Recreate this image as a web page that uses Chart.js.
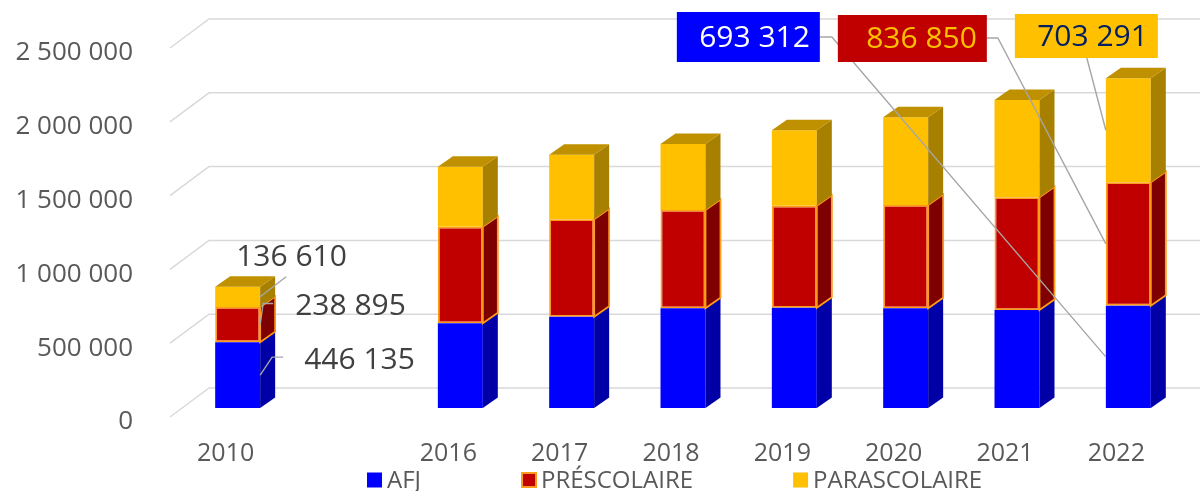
<!DOCTYPE html>
<html><head><meta charset="utf-8">
<script src="https://cdn.jsdelivr.net/npm/chart.js@4"></script>
<style>html,body{margin:0;padding:0;background:#fff;}#wrap{width:1200px;height:491px;}</style>
</head><body><div id="wrap"><canvas id="c" width="1200" height="491"></canvas></div>
<script>
const categories = ['2010', '', '2016', '2017', '2018', '2019', '2020', '2021', '2022'];
const afj = [446135, null, 573900, 618600, 675500, 679600, 675500, 664000, 693312];
const prescolaire = [238895, null, 654500, 660000, 666000, 691000, 700000, 763500, 836850];
const parascolaire = [136610, null, 406500, 437700, 447200, 510800, 594000, 659000, 703291];
const yTicks = [0, 500000, 1000000, 1500000, 2000000, 2500000];
const seriesNames = ['AFJ', 'PRÉSCOLAIRE', 'PARASCOLAIRE'];

const FONT = "'Open Sans', 'Noto Sans', sans-serif";
const fmt = v => String(v).replace(/\B(?=(\d{3})+(?!\d))/g, ' ');
const DX = 15, DY = -10.5;
const styles = [
  {front: '#0000FF', side: '#0000A6', top: '#0000C0', border: '#2a2aff', bw: 0},
  {front: '#C00000', side: '#7F0000', top: '#900000', border: '#FF9A1A', bw: 1.8},
  {front: '#FFC000', side: '#A88000', top: '#BF9000', border: '#FFC000', bw: 0}
];

function textAt(ctx, txt, x, cy, size, color, align) {
  ctx.font = size + 'px ' + FONT;
  ctx.fillStyle = color;
  ctx.textAlign = align || 'left';
  ctx.textBaseline = 'alphabetic';
  ctx.fillText(txt, x, cy + 0.357 * size);
}
function line(ctx, pts) {
  ctx.beginPath();
  ctx.moveTo(pts[0][0], pts[0][1]);
  for (let i = 1; i < pts.length; i++) ctx.lineTo(pts[i][0], pts[i][1]);
  ctx.strokeStyle = '#A6A6A6';
  ctx.lineWidth = 1.4;
  ctx.stroke();
}

const threeD = {
  id: 'threeD',
  beforeDatasetsDraw(chart) {
    const ctx = chart.ctx, ys = chart.scales.y, ca = chart.chartArea;
    ctx.save();
    ctx.strokeStyle = '#D9D9D9';
    ctx.lineWidth = 1.5;
    yTicks.forEach(v => {
      const p = ys.getPixelForValue(v);
      ctx.beginPath();
      ctx.moveTo(ca.left - 12, p + 9);
      ctx.lineTo(ca.left + 27, p - 20);
      ctx.lineTo(chart.width, p - 20);
      ctx.stroke();
    });
    ctx.restore();
  },
  afterDatasetsDraw(chart) {
    const ctx = chart.ctx;
    ctx.save();
    chart.data.datasets.forEach((ds, d) => {
      const st = styles[d];
      chart.getDatasetMeta(d).data.forEach((el, i) => {
        if (ds.data[i] == null) return;
        const p = el.getProps(['x', 'y', 'base', 'width'], true);
        const l = p.x - p.width / 2, r = p.x + p.width / 2;
        const t = Math.min(p.y, p.base), b = Math.max(p.y, p.base);
        ctx.beginPath();
        ctx.moveTo(r, t); ctx.lineTo(r + DX, t + DY); ctx.lineTo(r + DX, b + DY); ctx.lineTo(r, b); ctx.closePath();
        ctx.fillStyle = st.side; ctx.fill();
        if (st.bw) { ctx.strokeStyle = st.border; ctx.lineWidth = st.bw; ctx.stroke(); }
        if (d === chart.data.datasets.length - 1) {
          ctx.beginPath();
          ctx.moveTo(l, t); ctx.lineTo(l + DX, t + DY); ctx.lineTo(r + DX, t + DY); ctx.lineTo(r, t); ctx.closePath();
          ctx.fillStyle = st.top; ctx.fill();
        }
      });
    });

    const geo = (d, i) => {
      const p = chart.getDatasetMeta(d).data[i].getProps(['x', 'y', 'base', 'width'], true);
      const t = Math.min(p.y, p.base), b = Math.max(p.y, p.base);
      return {l: p.x - p.width / 2, r: p.x + p.width / 2, t, b, m: (t + b) / 2};
    };
    const vals = [afj, prescolaire, parascolaire];
    const g0 = geo(0, 0), g1 = geo(1, 0), g2 = geo(2, 0);
    line(ctx, [[g2.r + 26, g2.m - 20], [g2.r, g2.m]]);
    line(ctx, [[g1.r + 13, g1.m - 21], [g1.r + 3, g1.m - 21], [g1.r, g1.m]]);
    line(ctx, [[g0.r + 23, g0.m - 18], [g0.r + 12, g0.m - 18], [g0.r, g0.m]]);
    textAt(ctx, fmt(vals[2][0]), g2.l + 21, g2.t - 31, 30, '#404040');
    textAt(ctx, fmt(vals[1][0]), g1.r + 35, g1.m - 20, 30, '#404040');
    textAt(ctx, fmt(vals[0][0]), g0.r + 44, g0.m - 17, 30, '#404040');

    const n = categories.length - 1;
    const h0 = geo(0, n), h1 = geo(1, n), h2 = geo(2, n);
    const xL = h0.l, top = chart.chartArea.top;
    line(ctx, [[xL - 286, top - 2], [xL - 274, top - 2], [xL, h0.m]]);
    line(ctx, [[xL - 119, top - 1], [xL - 108, top - 1], [xL, h1.m]]);
    line(ctx, [[xL - 19, top + 19], [xL, h2.m]]);
    const boxes = [
      {x: xL - 429, y: top - 27, w: 143, h: 50, fill: '#0000FF', color: '#FFFFFF', v: vals[0][n]},
      {x: xL - 268, y: top - 24, w: 149, h: 47, fill: '#C00000', color: '#FFC000', v: vals[1][n]},
      {x: xL - 91, y: top - 25, w: 143, h: 44, fill: '#FFC000', color: '#002060', v: vals[2][n]}
    ];
    boxes.forEach(bx => {
      ctx.fillStyle = bx.fill;
      ctx.fillRect(bx.x, bx.y, bx.w, bx.h);
      textAt(ctx, fmt(bx.v), bx.x + bx.w - 10, bx.y + bx.h / 2 - 1, 30, bx.color, 'right');
    });
    ctx.restore();
  },
  afterDraw(chart) {
    const ctx = chart.ctx;
    ctx.save();
    let x = 367;
    const cy = 479.5;
    chart.data.datasets.forEach((ds, d) => {
      const st = styles[d];
      if (st.bw) {
        ctx.fillStyle = st.border; ctx.fillRect(x, cy - 7.5, 16, 16);
        ctx.fillStyle = st.front; ctx.fillRect(x + 2, cy - 5.5, 12, 12);
      } else {
        ctx.fillStyle = st.front; ctx.fillRect(x, cy - 7, 15, 15);
      }
      textAt(ctx, ds.label, x + 20, cy, 24, '#595959');
      ctx.font = '24px ' + FONT;
      x += 20 + ctx.measureText(ds.label).width + 100;
    });
    ctx.restore();
  }
};

new Chart(document.getElementById('c'), {
  type: 'bar',
  data: {
    labels: categories,
    datasets: [
      {label: seriesNames[0], data: afj, backgroundColor: styles[0].front, borderWidth: 0},
      {label: seriesNames[1], data: prescolaire, backgroundColor: styles[1].front, borderColor: styles[1].border, borderWidth: 1.8, borderSkipped: false},
      {label: seriesNames[2], data: parascolaire, backgroundColor: styles[2].front, borderWidth: 0}
    ]
  },
  options: {
    responsive: false,
    animation: false,
    layout: {padding: {top: 39, right: 16, bottom: 0, left: 0}},
    datasets: {bar: {categoryPercentage: 1, barPercentage: 0.404}},
    plugins: {legend: {display: false}, tooltip: {enabled: false}},
    scales: {
      x: {
        stacked: true,
        grid: {display: false, drawTicks: true, tickLength: 31},
        border: {display: false},
        ticks: {color: '#595959', font: {family: FONT, size: 25}, labelOffset: -12, padding: 0, maxRotation: 0, autoSkip: false},
        afterFit: s => { s.height = 83; }
      },
      y: {
        stacked: true,
        min: 0, max: 2500000,
        afterBuildTicks: s => { s.ticks = yTicks.map(v => ({value: v})); },
        grid: {display: false, drawTicks: true, tickLength: 40},
        border: {display: false},
        ticks: {color: '#595959', font: {family: FONT, size: 26}, padding: 9, labelOffset: 14, callback: v => fmt(v)},
        afterFit: s => { s.width = 182; }
      }
    }
  },
  plugins: [threeD]
});
</script></body></html>
